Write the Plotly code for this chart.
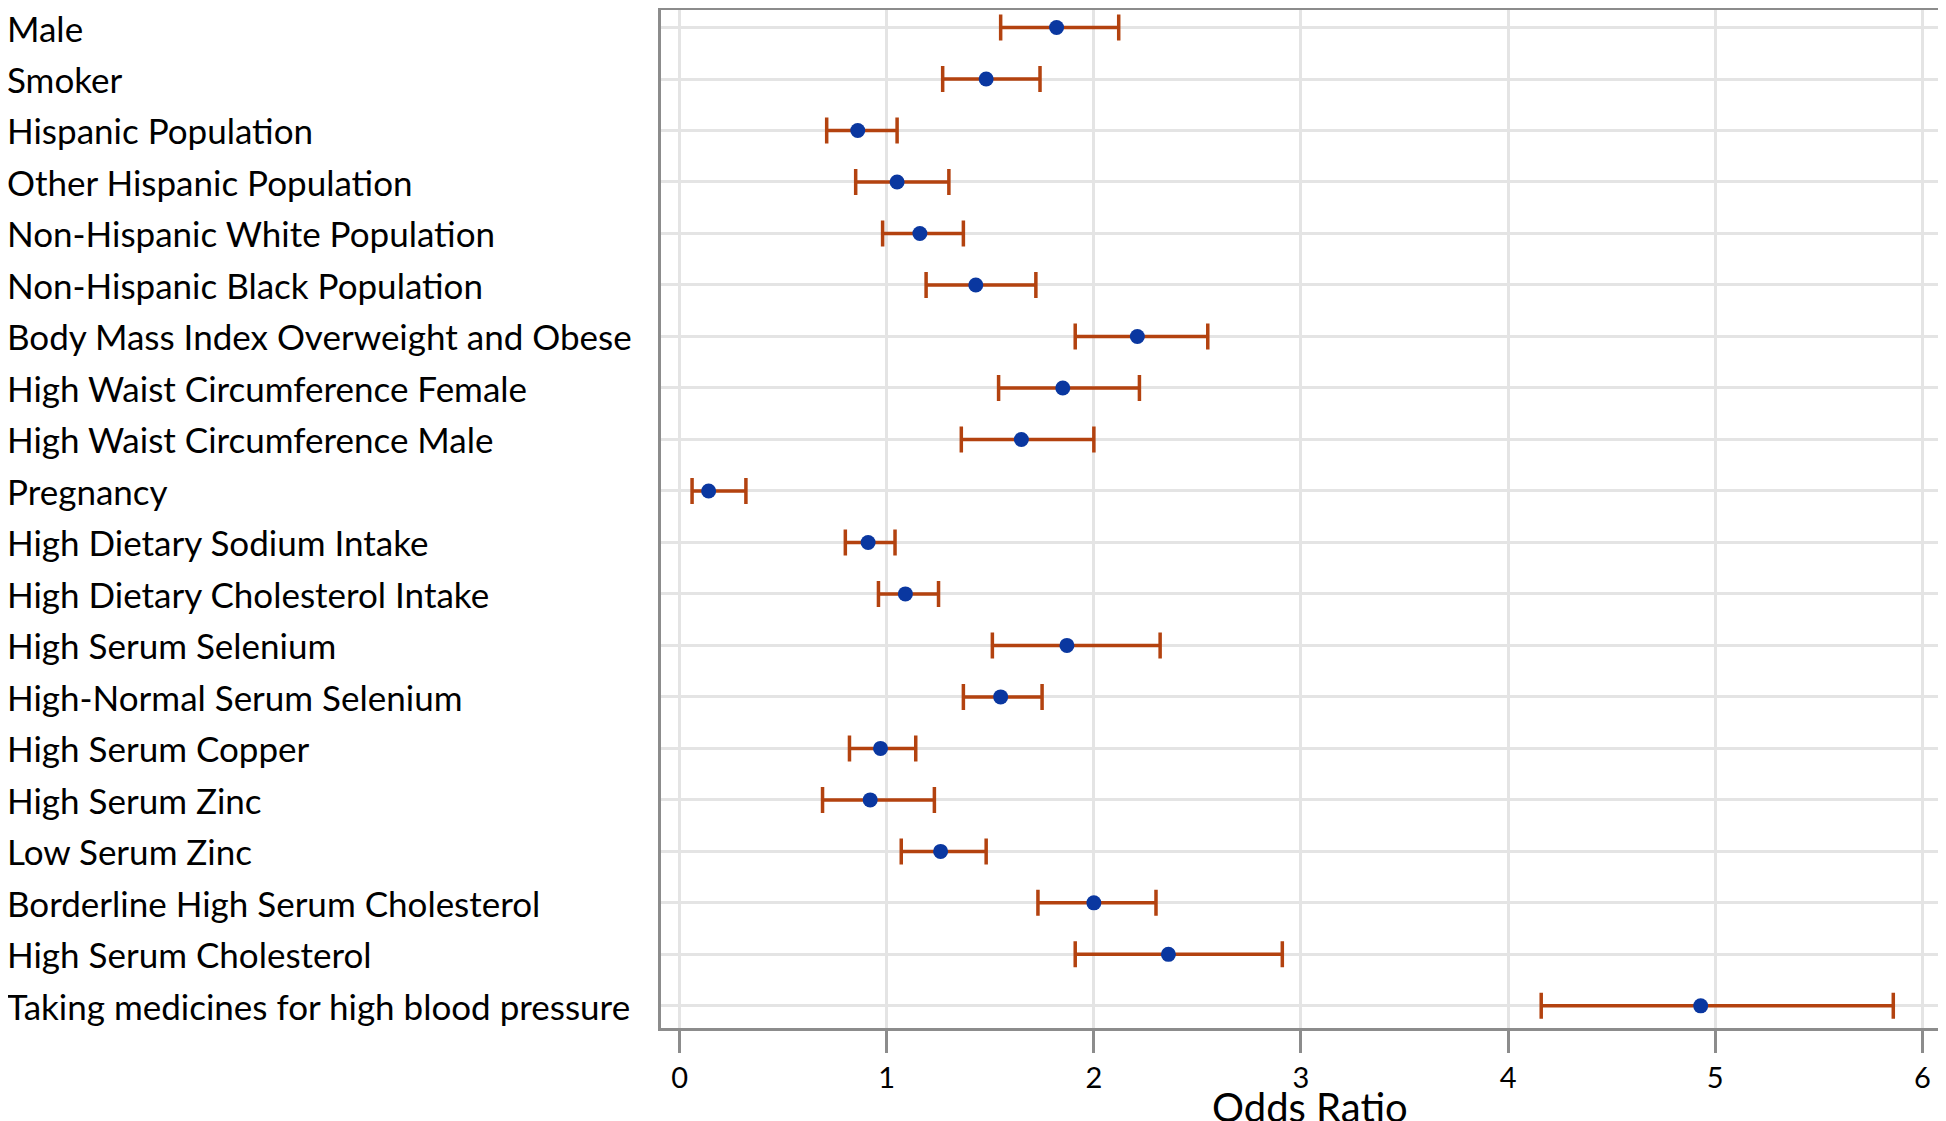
import plotly.graph_objects as go

# factors, odds ratios and 95% CI bounds
factors = [
    "Male",
    "Smoker",
    "Hispanic Population",
    "Other Hispanic Population",
    "Non-Hispanic White Population",
    "Non-Hispanic Black Population",
    "Body Mass Index Overweight and Obese",
    "High Waist Circumference Female",
    "High Waist Circumference Male",
    "Pregnancy",
    "High Dietary Sodium Intake",
    "High Dietary Cholesterol Intake",
    "High Serum Selenium",
    "High-Normal Serum Selenium",
    "High Serum Copper",
    "High Serum Zinc",
    "Low Serum Zinc",
    "Borderline High Serum Cholesterol",
    "High Serum Cholesterol",
    "Taking medicines for high blood pressure",
]
odds_ratio = [1.82, 1.48, 0.86, 1.05, 1.16, 1.43, 2.21, 1.85, 1.65, 0.14,
              0.91, 1.09, 1.87, 1.55, 0.97, 0.92, 1.26, 2.00, 2.36, 4.93]
ci_lower = [1.55, 1.27, 0.71, 0.85, 0.98, 1.19, 1.91, 1.54, 1.36, 0.06,
            0.80, 0.96, 1.51, 1.37, 0.82, 0.69, 1.07, 1.73, 1.91, 4.16]
ci_upper = [2.12, 1.74, 1.05, 1.30, 1.37, 1.72, 2.55, 2.22, 2.00, 0.32,
            1.04, 1.25, 2.32, 1.75, 1.14, 1.23, 1.48, 2.30, 2.91, 5.86]
x_ticks = [0, 1, 2, 3, 4, 5, 6]
null_value = 1

err_plus = [u - o for u, o in zip(ci_upper, odds_ratio)]
err_minus = [o - l for o, l in zip(odds_ratio, ci_lower)]

fig = go.Figure()

fig.add_vline(x=null_value, line_color="#979c9f", line_width=2.5, layer="below")

fig.add_trace(go.Scatter(
    x=odds_ratio, y=factors,
    mode="markers",
    marker=dict(color="#0a37a0", size=15),
    error_x=dict(type="data", symmetric=False, array=err_plus, arrayminus=err_minus,
                 color="#b3420f", thickness=3.5, width=13),
    showlegend=False,
))

# left-aligned category labels (plotly can only right-align tick labels)
for f in factors:
    fig.add_annotation(text=f, xref="paper", yref="y", x=-0.5093, y=f,
                       xanchor="left", yanchor="middle", showarrow=False,
                       xshift=-3, font=dict(family="Lato", size=35, color="black"))

# x axis title, partly cut by the bottom edge as in the original
fig.add_annotation(text="Odds Ratio", xref="paper", yref="paper", x=0.5, y=-0.052,
                   xanchor="center", yanchor="top", showarrow=False, xshift=8,
                   font=dict(family="Lato", size=40, color="black"))

# page body adds an 8px offset, so the figure is 8px smaller than the window
fig.update_layout(
    width=1938, height=1113,
    margin=dict(l=653, r=3, t=2, b=93),
    plot_bgcolor="white", paper_bgcolor="white",
    font=dict(family="Lato", color="black"),
)
fig.update_xaxes(
    range=[-0.09, 6.1], tickvals=x_ticks, automargin=False,
    showgrid=True, gridcolor="#e4e4e4", gridwidth=3,
    showline=True, linecolor="#8c8c8c", linewidth=3, mirror=True,
    ticks="outside", ticklen=22, tickwidth=3, tickcolor="#8c8c8c",
    tickfont=dict(size=29), zeroline=False,
)
fig.update_yaxes(
    categoryorder="array", categoryarray=factors,
    range=[len(factors) - 0.57, -0.34],
    showticklabels=False, automargin=False,
    showgrid=True, gridcolor="#e4e4e4", gridwidth=3,
    showline=True, linecolor="#8c8c8c", linewidth=3, mirror=True,
    zeroline=False,
)

fig.write_html("out.html")
